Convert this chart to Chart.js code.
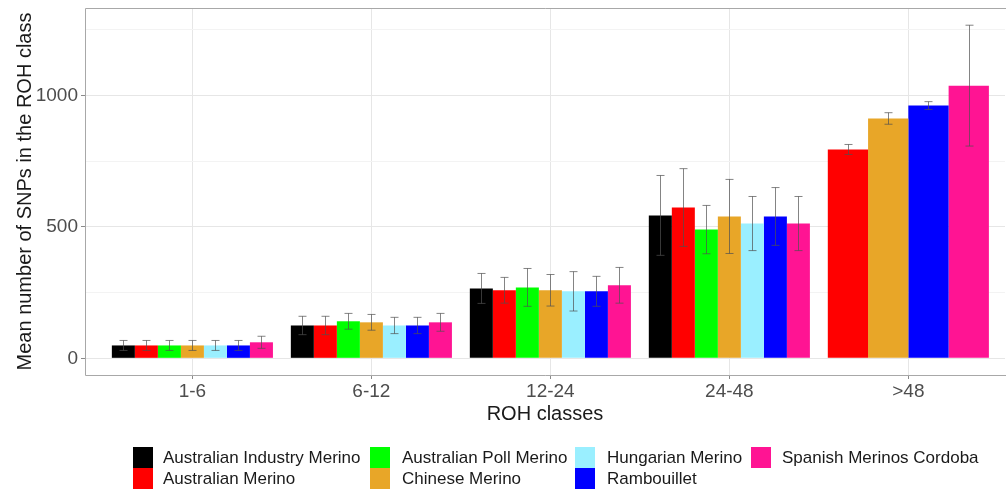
<!DOCTYPE html>
<html>
<head>
<meta charset="utf-8">
<script src="https://cdn.jsdelivr.net/npm/chart.js@4.4.1/dist/chart.umd.min.js"></script>
<style>
  body { margin: 0; background: #fff; }
  #wrap { position: relative; width: 1006px; height: 492px; font-family: "Liberation Sans", Arial, sans-serif; }
  #legend .key { position: absolute; width: 20px; height: 21px; }
  #legend .lab { position: absolute; font-size: 17px; color: #1a1a1a; line-height: 21px; white-space: nowrap; }
</style>
</head>
<body>
<div id="wrap">
  <canvas id="rohChart" width="1006" height="492"></canvas>
  <div id="legend"></div>
</div>
<script>
const categories = ["1-6", "6-12", "12-24", "24-48", ">48"];
const yTicks = [0, 500, 1000];
const yMinorTicks = [250, 750, 1250];

const seriesNames = [
  "Australian Industry Merino",
  "Australian Merino",
  "Australian Poll Merino",
  "Chinese Merino",
  "Hungarian Merino",
  "Rambouillet",
  "Spanish Merinos Cordoba"
];
const seriesColors = ["#000000", "#ff0000", "#00ff00", "#e8a628", "#9aefff", "#0000ff", "#ff1493"];

// mean and sd per ROH class
const aimMean = [49, 125, 266, 544, null];
const aimSd   = [19, 35, 57, 152, null];
const amMean  = [49, 125, 259, 574, 795];
const amSd    = [19, 35, 49, 148, 19];
const apmMean = [49, 141, 270, 490, null];
const apmSd   = [19, 30, 72, 92, null];
const cmMean  = [49, 137, 259, 540, 913];
const cmSd    = [19, 30, 60, 141, 22];
const hmMean  = [49, 125, 255, 513, null];
const hmSd    = [19, 31, 75, 103, null];
const ramMean = [49, 125, 255, 540, 962];
const ramSd   = [19, 31, 57, 110, 15];
const smcMean = [61, 137, 278, 513, 1038];
const smcSd   = [23, 34, 68, 103, 230];

const means = [aimMean, amMean, apmMean, cmMean, hmMean, ramMean, smcMean];
const sds = [aimSd, amSd, apmSd, cmSd, hmSd, ramSd, smcSd];

const FONT = "'Liberation Sans', Arial, sans-serif";

const datasets = seriesNames.map((name, s) => ({
  label: name,
  data: means[s].map((v, i) => ({ x: i, y: v })),
  sd: sds[s],
  backgroundColor: seriesColors[s],
  borderWidth: 0,
  categoryPercentage: 0.9,
  barPercentage: 1.0,
  skipNull: true
}));

// ggplot-like panel border (top, left, bottom)
const panelBorder = {
  id: "panelBorder",
  afterDraw(chart) {
    const { ctx, chartArea: a } = chart;
    ctx.save();
    ctx.strokeStyle = "#a8a8a8";
    ctx.lineWidth = 1;
    ctx.beginPath();
    ctx.moveTo(chart.width, a.top + 0.5);
    ctx.lineTo(a.left + 0.5, a.top + 0.5);
    ctx.lineTo(a.left + 0.5, a.bottom + 0.5);
    ctx.lineTo(chart.width, a.bottom + 0.5);
    ctx.stroke();
    ctx.restore();
  }
};

const errorBars = {
  id: "errorBars",
  afterDatasetsDraw(chart) {
    const { ctx } = chart;
    const yScale = chart.scales.y;
    ctx.save();
    ctx.strokeStyle = "rgba(80,80,80,0.7)";
    ctx.lineWidth = 1;
    chart.data.datasets.forEach((ds, s) => {
      const meta = chart.getDatasetMeta(s);
      meta.data.forEach((bar, i) => {
        const m = ds.data[i].y;
        const sd = ds.sd[i];
        if (m == null || sd == null) return;
        const x = Math.round(bar.x) + 0.5;
        const yt = yScale.getPixelForValue(m + sd);
        const yb = yScale.getPixelForValue(m - sd);
        ctx.beginPath();
        ctx.moveTo(x, yt);
        ctx.lineTo(x, yb);
        ctx.moveTo(x - 4, yt);
        ctx.lineTo(x + 4, yt);
        ctx.moveTo(x - 4, yb);
        ctx.lineTo(x + 4, yb);
        ctx.stroke();
      });
    });
    ctx.restore();
  }
};

new Chart(document.getElementById("rohChart"), {
  type: "bar",
  data: { datasets },
  options: {
    responsive: false,
    animation: false,
    layout: { padding: { top: 8, right: 1, bottom: 65, left: 0 } },
    plugins: {
      legend: { display: false },
      tooltip: { enabled: false }
    },
    scales: {
      x: {
        type: "linear",
        min: -0.6,
        max: 4.54,
        offset: false,
        afterBuildTicks: (scale) => { scale.ticks = categories.map((_, i) => ({ value: i })); },
        afterFit: (scale) => { scale.height = 52; scale.paddingLeft = 0; scale.paddingRight = 0; },
        border: { display: false },
        grid: { offset: false, color: "#e6e6e6", tickColor: "#8a8a8a", tickLength: 4, drawOnChartArea: true },
        ticks: {
          callback: (v) => categories[v],
          color: "#4d4d4d",
          font: { family: FONT, size: 19 },
          padding: 1,
          maxRotation: 0,
          autoSkip: false
        },
        title: {
          display: true,
          text: "ROH classes",
          color: "#1a1a1a",
          font: { family: FONT, size: 20 },
          padding: { top: 0, bottom: 1 }
        }
      },
      y: {
        min: -63.5,
        max: 1333.5,
        afterBuildTicks: (scale) => {
          scale.ticks = yTicks.concat(yMinorTicks).sort((a, b) => a - b).map(v => ({ value: v }));
        },
        afterFit: (scale) => { scale.width = 85; scale.paddingTop = 0; scale.paddingBottom = 0; },
        border: { display: false },
        grid: {
          color: (c) => yTicks.includes(c.tick.value) ? "#e6e6e6" : "#f3f3f3",
          tickColor: (c) => yTicks.includes(c.tick.value) ? "#8a8a8a" : "rgba(0,0,0,0)",
          tickLength: 4
        },
        ticks: {
          callback: (v) => yTicks.includes(v) ? String(v) : "",
          color: "#4d4d4d",
          font: { family: FONT, size: 19 },
          padding: 3
        },
        title: {
          display: true,
          text: "Mean number of SNPs in the ROH class",
          color: "#1a1a1a",
          font: { family: FONT, size: 20 },
          padding: { top: 13, bottom: 0 }
        }
      }
    }
  },
  plugins: [panelBorder, errorBars]
});

// legend, filled column by column like ggplot (2 rows)
const legendCols = [[133, 163], [370, 402], [575, 607], [751, 782]];
const legendRows = [447, 468];
const legend = document.getElementById("legend");
seriesNames.forEach((name, s) => {
  const col = Math.floor(s / 2), row = s % 2;
  const key = document.createElement("div");
  key.className = "key";
  key.style.left = legendCols[col][0] + "px";
  key.style.top = legendRows[row] + "px";
  key.style.background = seriesColors[s];
  const lab = document.createElement("div");
  lab.className = "lab";
  lab.style.left = legendCols[col][1] + "px";
  lab.style.top = legendRows[row] + "px";
  lab.textContent = name;
  legend.appendChild(key);
  legend.appendChild(lab);
});
</script>
</body>
</html>
